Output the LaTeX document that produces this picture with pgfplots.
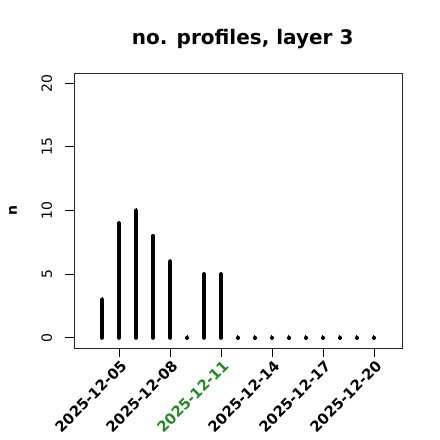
\documentclass[border=0pt]{standalone}
\usepackage{pgfplots}
\pgfplotsset{compat=1.18}
\usepackage{fontspec}
\setmainfont{DejaVu Sans}
\definecolor{today}{RGB}{34,139,34}
\newcommand{\dl}[1]{\mbox{\bfseries\fontsize{11}{13}\selectfont #1}}
\begin{document}
\begin{tikzpicture}
\useasboundingbox (-55.5pt,-69pt) rectangle (274.5pt,261pt);
\begin{axis}[
  scale only axis=true,
  width=246pt, height=206.25pt,
  at={(0,0)}, anchor=south west,
  xmin=-1.65, xmax=17.65,
  ymin=-0.8, ymax=20.8,
  axis line style={black!85, line width=0.6pt},
  tick align=outside,
  xtick pos=bottom, ytick pos=left,
  major tick length=7pt,
  tick style={black, line width=0.6pt},
  xtick={1,4,7,10,13,16},
  xticklabels={\dl{2025-12-05},\dl{2025-12-08},\dl{\textcolor{today}{2025-12-11}},\dl{2025-12-14},\dl{2025-12-17},\dl{2025-12-20}},
  xticklabel style={rotate=45, anchor=north east, xshift=3pt, yshift=2pt},
  ytick={0,5,10,15,20},
  yticklabel style={rotate=90, anchor=south, font=\fontsize{10.5}{12}\selectfont, yshift=6pt},
  /pgf/number format/assume math mode=true,
  ylabel={n},
  ylabel style={font=\bfseries\fontsize{10.5}{12}\selectfont, at={(axis description cs:-0.186,0.5)}, anchor=center, rotate=0},
  title={no. profiles, layer 3},
  title style={font=\bfseries\fontsize{15}{17}\selectfont, at={(axis description cs:0.5,1)}, anchor=base, yshift=15.5pt, xshift=3.5pt},
  clip=false,
]
\addplot+[ycomb, black, line width=3pt, line cap=round, mark=*, mark size=1.45pt, mark options={black, fill=black, line width=0pt}] coordinates {
  (0,3) (1,9) (2,10) (3,8) (4,6) (5,0) (6,5) (7,5) (8,0) (9,0) (10,0) (11,0) (12,0) (13,0) (14,0) (15,0) (16,0)
};
\end{axis}
\end{tikzpicture}
\end{document}
